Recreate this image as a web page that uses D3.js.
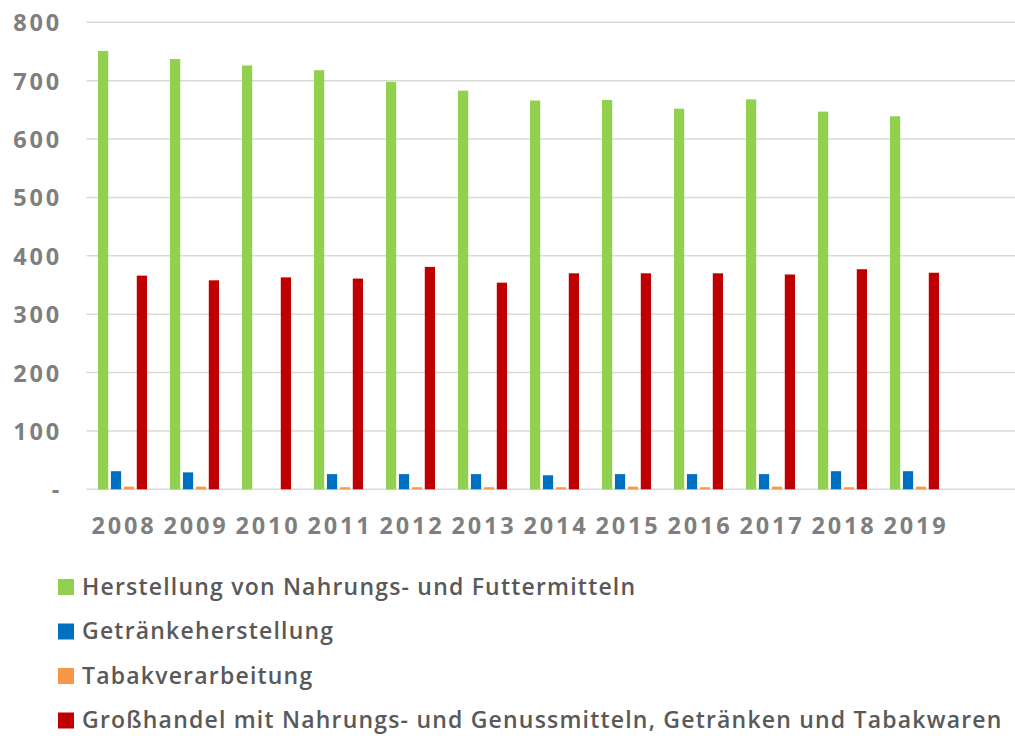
<!DOCTYPE html>
<html>
<head>
<meta charset="utf-8">
<script src="https://cdn.jsdelivr.net/npm/d3@7"></script>
<style>
  html, body { margin: 0; padding: 0; background: #fff; }
  svg { display: block; }
  text { font-family: "Open Sans", "Noto Sans", sans-serif; font-weight: 700; }
</style>
</head>
<body>
<svg id="chart" width="1015" height="736"></svg>
<script>
const years = ["2008","2009","2010","2011","2012","2013","2014","2015","2016","2017","2018","2019"];
const seriesNames = [
  "Herstellung von Nahrungs- und Futtermitteln",
  "Getränkeherstellung",
  "Tabakverarbeitung",
  "Großhandel mit Nahrungs- und Genussmitteln, Getränken und Tabakwaren"
];
const seriesColors = ["#92D050", "#0070C0", "#F79646", "#C00000"];
const nahrung   = [751, 737, 726, 718, 698, 683, 666, 667, 652, 668, 647, 639];
const getraenke = [31, 29, null, 26, 26, 26, 24, 26, 26, 26, 31, 31];
const tabak     = [4.5, 4.5, null, 3.5, 3.5, 3.5, 3.5, 4.5, 3.5, 4.5, 3.5, 4.5];
const grosshandel = [366, 358, 363, 361, 381, 354, 370, 370, 370, 368, 377, 371];
const yTicks = [0, 100, 200, 300, 400, 500, 600, 700, 800];

const seriesValues = [nahrung, getraenke, tabak, grosshandel];

const svg = d3.select("#chart");
const plotLeft = 86.5, plotRight = 1015;

const y = d3.scaleLinear().domain([0, 800]).range([489.3, 22.3]);
const x = d3.scaleBand().domain(years).range([86.5, 950.5]).paddingInner(0).paddingOuter(0);
const xs = d3.scaleBand().domain(d3.range(seriesNames.length))
  .range([11.5, x.bandwidth() - 11.5]).paddingInner(0.21).paddingOuter(0);

// gridlines
svg.append("g").selectAll("line").data(yTicks).join("line")
  .attr("x1", plotLeft).attr("x2", plotRight)
  .attr("y1", d => y(d)).attr("y2", d => y(d))
  .attr("stroke", "#d9d9d9").attr("stroke-width", 1.5);

// y axis labels
const yAxis = d3.axisLeft(y).tickValues(yTicks).tickSize(0).tickPadding(0)
  .tickFormat(d => d === 0 ? "-" : d);
const yg = svg.append("g").attr("transform", "translate(62,0)").call(yAxis);
yg.select(".domain").remove();
yg.selectAll("text").attr("fill", "#7f7f7f").attr("font-size", 23.5)
  .attr("letter-spacing", 2.8).attr("dy", "0.36em")
  .style("font-family", '"Open Sans", sans-serif').style("font-weight", 700);

// bars
const groups = svg.append("g").selectAll("g").data(years).join("g")
  .attr("transform", d => `translate(${x(d)},0)`);
groups.selectAll("rect")
  .data((yr, i) => seriesValues.map((vals, s) => ({ s, v: vals[i] })).filter(d => d.v != null))
  .join("rect")
  .attr("x", d => xs(d.s))
  .attr("width", xs.bandwidth())
  .attr("y", d => y(d.v))
  .attr("height", d => y(0) - y(d.v))
  .attr("fill", d => seriesColors[d.s]);

// x axis labels
const xAxis = d3.axisBottom(x).tickSize(0).tickPadding(0);
const xg = svg.append("g").attr("transform", "translate(1.4,533.5)").call(xAxis);
xg.select(".domain").remove();
xg.selectAll("text").attr("fill", "#7f7f7f").attr("font-size", 23.5)
  .attr("letter-spacing", 2.8).attr("dy", 0)
  .style("font-family", '"Open Sans", sans-serif').style("font-weight", 700);

// legend
const legend = svg.append("g").selectAll("g").data(seriesNames).join("g")
  .attr("transform", (d, i) => `translate(58,${587 + i * 44.5})`);
legend.append("rect").attr("x", 0).attr("y", -8).attr("width", 16).attr("height", 16)
  .attr("fill", (d, i) => seriesColors[i]);
legend.append("text").attr("x", 24).attr("y", 0).attr("dy", "0.34em")
  .attr("fill", "#595959").attr("font-size", 23).attr("letter-spacing", 1.2)
  .style("font-weight", 600)
  .text(d => d);
</script>
</body>
</html>
